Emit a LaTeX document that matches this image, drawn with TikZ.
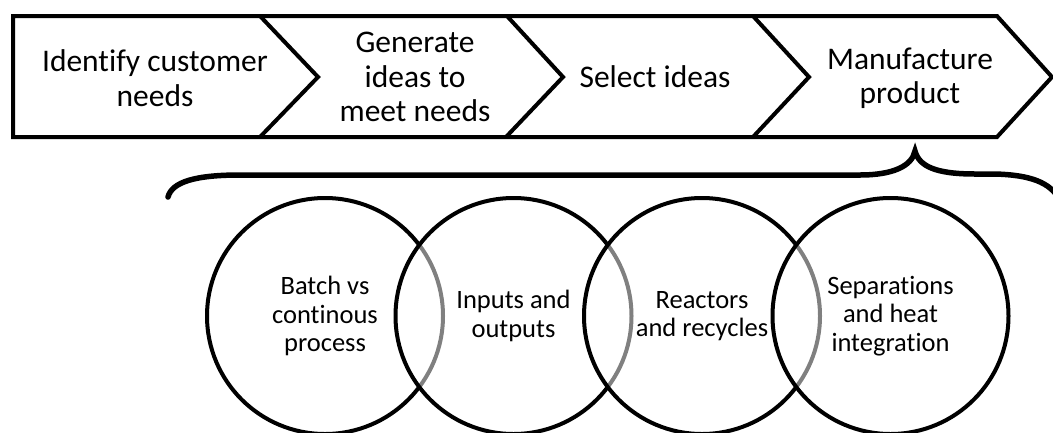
\documentclass[tikz,border=0pt]{standalone}
\usepackage{fontspec}
\setmainfont{Carlito}[Ligatures={NoCommon}]
\begin{document}
\begin{tikzpicture}[x=1pt,y=-1pt,
  outline/.style={line width=4pt, line join=miter},
  stagetext/.style={align=center, inner sep=0pt, font=\fontsize{31.5}{34.5}\selectfont},
  topic/.style={circle, draw, line width=4pt, minimum size=236pt, inner sep=0pt,
    fill=white, fill opacity=0.5, text opacity=1, align=center,
    font=\fontsize{26.5}{28.5}\selectfont},
  bracestyle/.style={line width=5.5pt, line cap=round}]
\useasboundingbox (0,0) rectangle (1053,432);

% process strip: one long arrow split into four chevrons
\draw[outline] (13,16) -- (997,16) -- (1052,77) -- (997,137) -- (13,137) -- cycle;
\draw[outline] (260,16) -- (318,77) -- (260,137);
\draw[outline] (507,16) -- (563,77) -- (506,137);
\draw[outline] (753,16) -- (809,77) -- (753,137);

\node[stagetext] (s1) at (155,78) {Identify customer\\needs};
\node[stagetext] (s2) at (415,77) {Generate\\ideas to\\meet needs};
\node[stagetext] (s3) at (655,77) {Select ideas};
\node[stagetext] (s4) at (910,78) {Manufacture\\product};

% curly brace opening below the last stage
\draw[bracestyle] (168,197) .. controls (172,182) and (195,175) .. (240,175)
  -- (860,175) .. controls (893,175) and (912,166) .. (915,151)
  .. controls (919,166) and (935,174) .. (975,174)
  -- (995,174) .. controls (1030,175) and (1050,182) .. (1060,200);

% overlapping stages of the manufacturing design
\node[topic] (c1) at (325,316) {Batch vs\\continous\\process};
\node[topic] (c2) at (513.5,316) {Inputs and\\outputs};
\node[topic] (c3) at (702,316) {Reactors\\and recycles};
\node[topic] (c4) at (890.5,316) {Separations\\and heat\\integration};
\end{tikzpicture}
\end{document}
